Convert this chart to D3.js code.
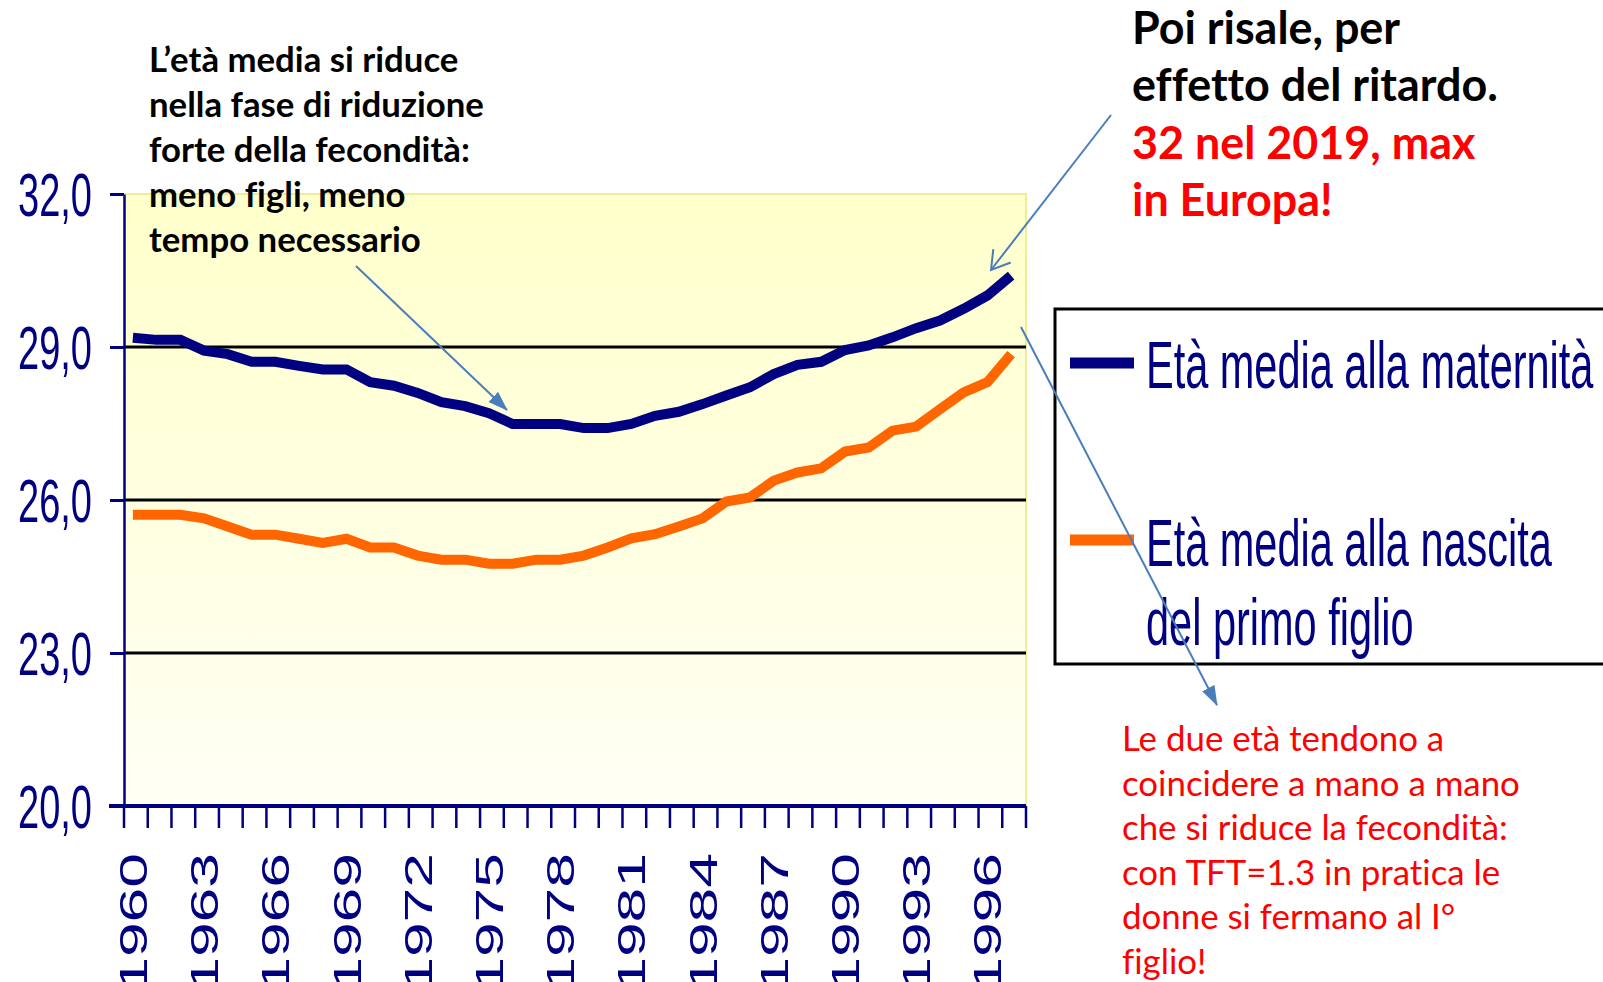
<!DOCTYPE html>
<html>
<head>
<meta charset="utf-8">
<script src="https://cdn.jsdelivr.net/npm/d3@7"></script>
<style>
	body { margin: 0; background: #fff; overflow: hidden; }
	svg { display: block; }
</style>
</head>
<body>
<svg id="chart" width="1603" height="982"></svg>
<script>
// data ------------------------------------------------------------
var years = [1960, 1961, 1962, 1963, 1964, 1965, 1966, 1967, 1968, 1969,
	1970, 1971, 1972, 1973, 1974, 1975, 1976, 1977, 1978, 1979,
	1980, 1981, 1982, 1983, 1984, 1985, 1986, 1987, 1988, 1989,
	1990, 1991, 1992, 1993, 1994, 1995, 1996, 1997];

// età media alla maternità
var maternita = [29.18, 29.14, 29.14, 28.93, 28.86, 28.71, 28.71, 28.63, 28.56, 28.56,
	28.31, 28.24, 28.10, 27.92, 27.84, 27.70, 27.49, 27.49, 27.49, 27.41,
	27.41, 27.49, 27.65, 27.73, 27.88, 28.05, 28.21, 28.47, 28.65, 28.71,
	28.94, 29.03, 29.19, 29.37, 29.52, 29.75, 30.01, 30.40];

// età media alla nascita del primo figlio
var primoFiglio = [25.71, 25.71, 25.71, 25.64, 25.48, 25.32, 25.32, 25.24, 25.16, 25.24,
	25.07, 25.07, 24.91, 24.83, 24.83, 24.75, 24.75, 24.83, 24.83, 24.91,
	25.07, 25.25, 25.33, 25.48, 25.64, 25.97, 26.05, 26.38, 26.54, 26.62,
	26.95, 27.03, 27.36, 27.44, 27.78, 28.11, 28.31, 28.86];

var yTicks = [20, 23, 26, 29, 32];
var xTickLabels = [1960, 1963, 1966, 1969, 1972, 1975, 1978, 1981, 1984, 1987, 1990, 1993, 1996];

var legendLines = [
	["Età media alla maternità"],
	["Età media alla nascita", "del primo figlio"]
];

var noteLeft = ["L\u2019età media si riduce", "nella fase di riduzione", "forte della fecondità:",
	"meno figli, meno", "tempo necessario"];
var noteTop = ["Poi risale, per", "effetto del ritardo.", "32 nel 2019, max", "in Europa!"];
var noteBottom = ["Le due età tendono a", "coincidere a mano a mano", "che si riduce la fecondità:",
	"con TFT=1.3 in pratica le", "donne si fermano al I°", "figlio!"];

// setup -----------------------------------------------------------
var svg = d3.select("#chart");
var navy = "#000080",
	orange = "#ff6600",
	arrowBlue = "#4a7ebb",
	stretch = 1.6, // the chart text is stretched vertically
	chartFont = "'Liberation Sans', Arial, sans-serif",
	noteFont = "Lato, 'Open Sans', sans-serif";

var x = d3.scaleBand().domain(years).range([124, 1026]);
var y = d3.scaleLinear().domain([20, 32]).range([806, 194]);
var xc = d => x(d) + x.bandwidth() / 2 - 3;

var defs = svg.append("defs");

var grad = defs
	.append("linearGradient")
	.attr("id", "plotBg")
	.attr("x1", 0)
	.attr("y1", 0)
	.attr("x2", 0)
	.attr("y2", 1);
grad.append("stop").attr("offset", "0%").attr("stop-color", "#ffffcb");
grad.append("stop").attr("offset", "100%").attr("stop-color", "#fffff5");

// arrow heads
defs
	.append("marker")
	.attr("id", "headFill")
	.attr("markerUnits", "userSpaceOnUse")
	.attr("viewBox", "0 0 20 14")
	.attr("markerWidth", 20)
	.attr("markerHeight", 14)
	.attr("refX", 19)
	.attr("refY", 7)
	.attr("orient", "auto")
	.append("path")
	.attr("d", "M0,0L20,7L0,14Z")
	.style("fill", arrowBlue);

defs
	.append("marker")
	.attr("id", "headOpen")
	.attr("markerUnits", "userSpaceOnUse")
	.attr("viewBox", "-2 -2 24 26")
	.attr("markerWidth", 24)
	.attr("markerHeight", 26)
	.attr("refX", 18)
	.attr("refY", 11)
	.attr("orient", "auto")
	.append("path")
	.attr("d", "M0,0L18,11L0,22")
	.style("fill", "none")
	.style("stroke", arrowBlue)
	.style("stroke-width", 2);

// plot area -------------------------------------------------------
var x0 = x.range()[0],
	x1 = x.range()[1];

svg
	.append("rect")
	.attr("x", x0)
	.attr("y", y(32))
	.attr("width", x1 - x0)
	.attr("height", y(20) - y(32))
	.style("fill", "url(#plotBg)");

// pale border top and right
svg
	.append("path")
	.attr("d", "M" + x0 + "," + y(32) + "H" + x1 + "V" + y(20))
	.style("fill", "none")
	.style("stroke", "#eeee9a")
	.style("stroke-width", 2);

// gridlines
svg
	.selectAll(".grid")
	.data(yTicks.filter(d => d > 20 && d < 32))
	.enter()
	.append("line")
	.classed("grid", true)
	.attr("x1", x0)
	.attr("x2", x1)
	.attr("y1", d => y(d))
	.attr("y2", d => y(d))
	.style("stroke", "#000")
	.style("stroke-width", 3);

// y axis
var yAxis = svg
	.append("g")
	.attr("transform", "translate(" + x0 + ",0)")
	.call(
		d3
			.axisLeft(y)
			.tickValues(yTicks)
			.tickSize(14)
			.tickSizeOuter(0)
			.tickFormat(d => d3.format(".1f")(d).replace(".", ","))
	);

yAxis.select(".domain").style("stroke", navy).style("stroke-width", 2.5);
yAxis.selectAll(".tick line").style("stroke", navy).style("stroke-width", 3);
yAxis
	.selectAll(".tick text")
	.attr("x", -32)
	.attr("dy", "0.35em")
	.attr("transform", "scale(1," + stretch + ")")
	.style("font-family", chartFont)
	.style("font-size", "38px")
	.style("fill", navy);

// x axis: ticks between categories
var xAxis = svg.append("g").attr("transform", "translate(0," + y(20) + ")");

xAxis
	.append("line")
	.attr("x1", x0 - 15)
	.attr("x2", x1)
	.style("stroke", navy)
	.style("stroke-width", 4);

xAxis
	.selectAll(".xtick")
	.data(years.map(d => x(d)).concat([x1]))
	.enter()
	.append("line")
	.classed("xtick", true)
	.attr("x1", d => d)
	.attr("x2", d => d)
	.attr("y1", 0)
	.attr("y2", 22)
	.style("stroke", navy)
	.style("stroke-width", 2.5);

xAxis
	.selectAll(".xlabel")
	.data(xTickLabels)
	.enter()
	.append("text")
	.classed("xlabel", true)
	.attr("transform", d => "translate(" + xc(d) + ",47) scale(1," + stretch + ") rotate(-90)")
	.attr("dy", "0.36em")
	.style("text-anchor", "end")
	.style("font-family", chartFont)
	.style("font-size", "39px")
	.style("fill", navy)
	.text(d => d);

// lines -----------------------------------------------------------
var line = d3
	.line()
	.x((d, i) => xc(years[i]))
	.y(d => y(d));

svg
	.selectAll(".series")
	.data([
		{ values: maternita, colour: navy },
		{ values: primoFiglio, colour: orange }
	])
	.enter()
	.append("path")
	.classed("series", true)
	.attr("d", d => line(d.values))
	.style("fill", "none")
	.style("stroke", d => d.colour)
	.style("stroke-width", 10)
	.style("stroke-linejoin", "miter");

// legend ----------------------------------------------------------
var legend = svg.append("g");

legend
	.append("rect")
	.attr("x", 1055)
	.attr("y", 309)
	.attr("width", 600)
	.attr("height", 355)
	.style("fill", "#fff")
	.style("stroke", "#000")
	.style("stroke-width", 3);

var legendItems = [
	{ colour: navy, markY: 363, baselines: [388] },
	{ colour: orange, markY: 540, baselines: [566, 645] }
];

legendItems.forEach(function(item, i) {
	legend
		.append("line")
		.attr("x1", 1070)
		.attr("x2", 1134)
		.attr("y1", item.markY)
		.attr("y2", item.markY)
		.style("stroke", item.colour)
		.style("stroke-width", 11);

	legend
		.selectAll(".leg" + i)
		.data(legendLines[i])
		.enter()
		.append("text")
		.classed("leg" + i, true)
		.attr("transform", (d, j) => "translate(1146," + item.baselines[j] + ") scale(1," + stretch + ")")
		.style("font-family", chartFont)
		.style("font-size", "41.5px")
		.style("fill", navy)
		.text(d => d);
});

// notes -----------------------------------------------------------
function noteBlock(lines, colours, left, firstBaseline, lineGap, widest, weight) {
	var t = svg
		.append("g")
		.selectAll("text")
		.data(lines)
		.enter()
		.append("text")
		.attr("x", left)
		.attr("y", (d, i) => firstBaseline + i * lineGap)
		.style("font-family", noteFont)
		.style("font-weight", weight)
		.style("font-variant-ligatures", "none")
		.style("font-size", "30px")
		.style("fill", (d, i) => colours[i])
		.text(d => d);

	// fit the font size to the widest line of the original
	var w = d3.max(t.nodes(), n => n.getComputedTextLength());
	t.style("font-size", (30 * widest) / w + "px");
}

noteBlock(noteLeft, ["#000", "#000", "#000", "#000", "#000"], 149, 72, 45, 335, 700);
noteBlock(noteTop, ["#000", "#000", "#ff0000", "#ff0000"], 1132, 44, 57.3, 366, 700);
noteBlock(noteBottom, ["#ff0000", "#ff0000", "#ff0000", "#ff0000", "#ff0000", "#ff0000"],
	1122, 751, 44.6, 398, 400);

// arrows ----------------------------------------------------------
var arrows = [
	{ from: [356, 266], to: [507, 410], head: "headFill" },
	{ from: [1111, 115], to: [991, 270], head: "headOpen" },
	{ from: [1021, 327], to: [1217, 705], head: "headFill" }
];

svg
	.selectAll(".arrow")
	.data(arrows)
	.enter()
	.append("line")
	.classed("arrow", true)
	.attr("x1", d => d.from[0])
	.attr("y1", d => d.from[1])
	.attr("x2", d => d.to[0])
	.attr("y2", d => d.to[1])
	.attr("marker-end", d => "url(#" + d.head + ")")
	.style("stroke", arrowBlue)
	.style("stroke-width", 2);
</script>
</body>
</html>
